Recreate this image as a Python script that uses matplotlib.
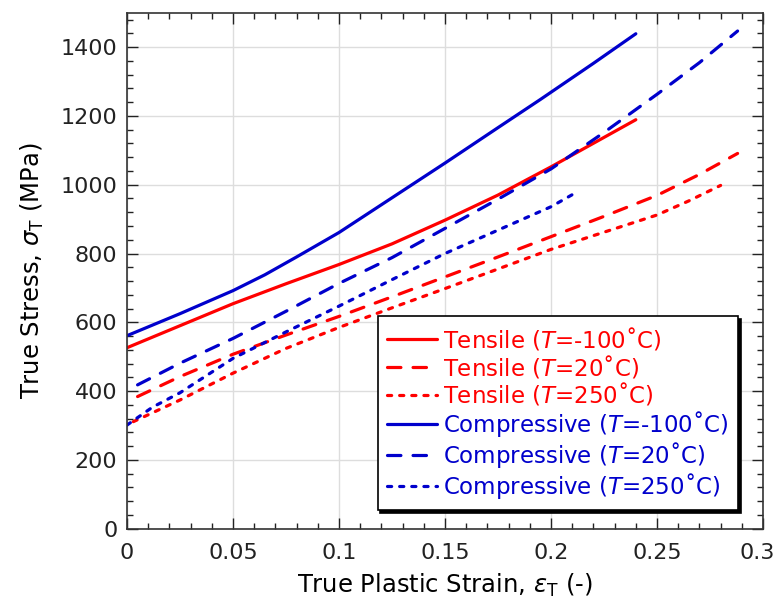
import numpy as np
import matplotlib
matplotlib.use('Agg')
import matplotlib.pyplot as plt
import matplotlib.transforms as mtransforms
from matplotlib.ticker import MultipleLocator, FormatStrFormatter

plt.rcParams['font.family'] = ['DejaVu Sans']
plt.rcParams['mathtext.fontset'] = 'dejavusans'

ten_m100_x = [0, 0.025, 0.05, 0.075, 0.1, 0.125, 0.15, 0.175, 0.2, 0.24]
ten_m100_y = [526, 590, 654, 712, 768, 828, 897, 970, 1052, 1189]
ten_20_x = [0.005, 0.025, 0.05, 0.075, 0.1, 0.125, 0.15, 0.175, 0.2, 0.225, 0.25, 0.27, 0.288]
ten_20_y = [384, 442, 507, 563, 617, 674, 732, 790, 849, 908, 969, 1030, 1091]
ten_250_x = [0.003, 0.025, 0.05, 0.075, 0.1, 0.125, 0.15, 0.175, 0.2, 0.225, 0.25, 0.265, 0.28]
ten_250_y = [311, 374, 452, 524, 585, 642, 698, 755, 812, 862, 912, 953, 998]

com_m100_x = [0, 0.025, 0.05, 0.065, 0.08, 0.1, 0.125, 0.15, 0.175, 0.195, 0.22, 0.24]
com_m100_y = [561, 625, 692, 738, 790, 861, 962, 1063, 1166, 1248, 1353, 1439]
com_20_x = [0.005, 0.025, 0.05, 0.075, 0.1, 0.125, 0.15, 0.175, 0.2, 0.225, 0.25, 0.27, 0.288]
com_20_y = [418, 481, 553, 632, 713, 788, 873, 958, 1046, 1152, 1263, 1355, 1447]
com_250_x = [0, 0.012, 0.025, 0.05, 0.075, 0.1, 0.125, 0.15, 0.175, 0.2, 0.21]
com_250_y = [301, 353, 395, 495, 572, 647, 724, 800, 868, 936, 971]

dash_long = (4.2, 3.8)
dash_short = (1.3, 2.5)
red = '#ff0000'
blue = '#0000cc'

fig = plt.figure(figsize=(7.79, 6.09), dpi=100)
ax = fig.add_axes([0.163, 0.132, 0.8165, 0.847])

lw = 2.3
ax.plot(ten_m100_x, ten_m100_y, color=red, lw=lw, solid_capstyle='round',
        label='Tensile ($\\mathit{T}$=-100˚C)')
ax.plot(ten_20_x, ten_20_y, color=red, lw=lw, dashes=dash_long, dash_capstyle='round',
        label='Tensile ($\\mathit{T}$=20˚C)')
ax.plot(ten_250_x, ten_250_y, color=red, lw=lw, dashes=dash_short, dash_capstyle='round',
        label='Tensile ($\\mathit{T}$=250˚C)')
ax.plot(com_m100_x, com_m100_y, color=blue, lw=lw, solid_capstyle='round',
        label='Compressive ($\\mathit{T}$=-100˚C)')
ax.plot(com_20_x, com_20_y, color=blue, lw=lw, dashes=dash_long, dash_capstyle='round',
        label='Compressive ($\\mathit{T}$=20˚C)')
ax.plot(com_250_x, com_250_y, color=blue, lw=lw, dashes=dash_short, dash_capstyle='round',
        label='Compressive ($\\mathit{T}$=250˚C)')

ax.set_xlim(0, 0.3)
ax.set_ylim(0, 1500)
ax.xaxis.set_major_locator(MultipleLocator(0.05))
ax.xaxis.set_minor_locator(MultipleLocator(0.01))
ax.yaxis.set_major_locator(MultipleLocator(200))
ax.yaxis.set_minor_locator(MultipleLocator(40))
ax.xaxis.set_major_formatter(FormatStrFormatter('%g'))
ax.tick_params(which='both', direction='in', top=True, right=True, labelsize=16, colors='#222222')
ax.tick_params(which='major', length=8, width=1)
ax.tick_params(which='minor', length=4.5, width=1)
ax.tick_params(axis='x', pad=10)
ax.tick_params(axis='y', pad=7)
ax.grid(True, which='major', color='#dddddd', lw=1)
for s in ax.spines.values():
    s.set_linewidth(1.2)
    s.set_color('#333333')

ax.set_xlabel('True Plastic Strain, $\\varepsilon_\\mathrm{T}$ (-)', fontsize=17.5, labelpad=7)
ax.set_ylabel('True Stress, $\\sigma_\\mathrm{T}$ (MPa)', fontsize=17.5, labelpad=10)

leg = ax.legend(loc='lower right', bbox_to_anchor=(0.9607, 0.0364), borderaxespad=0,
                fontsize=16.5, labelcolor='linecolor', fancybox=False, edgecolor='black',
                framealpha=1, handlelength=2.2, handletextpad=0.26, labelspacing=0.04,
                borderpad=0.4, shadow={'color': 'black', 'alpha': 1})
leg.get_frame().set_linewidth(1.2)

# nudge the "0.3" tick label so it stays inside the figure
fig.canvas.draw()
for lab in ax.xaxis.get_majorticklabels():
    if lab.get_text() == '0.3':
        lab.set_transform(lab.get_transform() +
                          mtransforms.ScaledTranslation(-4 / 72, 0, fig.dpi_scale_trans))

fig.savefig('out.png', dpi=100)
